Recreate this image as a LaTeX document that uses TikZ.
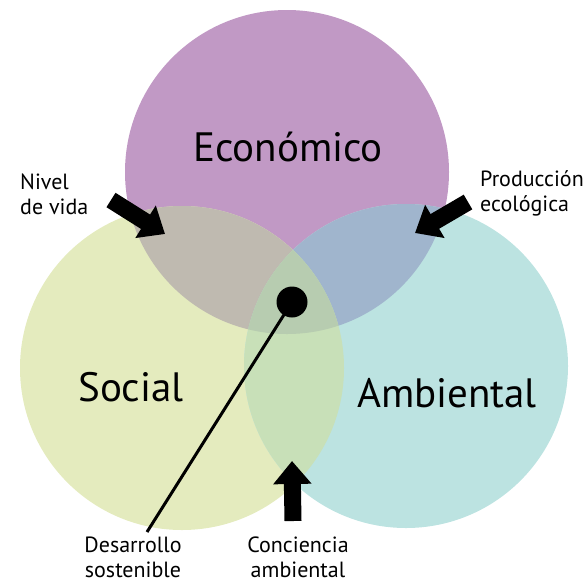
\documentclass[tikz,border=0pt]{standalone}
\usepackage{fontspec}
\setmainfont{PT Sans}
\usetikzlibrary{arrows.meta}

\definecolor{ecocol}{RGB}{193,153,197}
\definecolor{soccol}{RGB}{228,235,190}
\definecolor{ambcol}{RGB}{188,227,225}
\definecolor{ecosoc}{RGB}{191,186,176}
\definecolor{ecoamb}{RGB}{160,181,205}
\definecolor{socamb}{RGB}{200,224,184}
\definecolor{allcol}{RGB}{183,204,176}

\begin{document}
\begin{tikzpicture}
[x=1pt,y=-1pt,
set/.style ={circle, minimum size=324pt, inner sep=0pt, outer sep=0pt},
big/.style ={font=\fontsize{41}{44}\selectfont},
small/.style ={font=\fontsize{22}{25}\selectfont, inner sep=0pt},
fat/.style ={line width=17pt, -{Triangle[width=37pt,length=23pt]}}]
\useasboundingbox (0,0) rectangle (588,582);
% the three sets
\node [set, fill=ecocol] (eco) at (287,172) {};
\node [set, fill=soccol] (soc) at (182,368) {};
\node [set, fill=ambcol] (amb) at (406,366) {};
% overlaps
\begin{scope}
\clip (eco.center) circle (162pt);
\fill [ecosoc] (soc.center) circle (162pt);
\fill [ecoamb] (amb.center) circle (162pt);
\end{scope}
\begin{scope}
\clip (soc.center) circle (162pt);
\clip (amb.center) circle (162pt);
\fill [socamb] (0,0) rectangle (588,582);
\fill [allcol] (eco.center) circle (162pt);
\end{scope}
% names
\node [big] (ecotxt) at (288,147) {Económico};
\node [big] (soctxt) at (131,387) {Social};
\node [big] (ambtxt) at (447,393) {Ambiental};
% labels
\node [small, align=left, anchor=west] (nivel) at (20,194) {Nivel\\de vida};
\node [small, align=left, anchor=west] (prod) at (480,193) {Producción\\ecológica};
\node [small, align=center] (desa) at (133,557) {Desarrollo\\sostenible};
\node [small, align=center] (conc) at (298,557) {Conciencia\\ambiental};
% arrows
\coordinate (nivtail) at (111,200);
\coordinate (nivtip) at (165,234);
\coordinate (prodtail) at (468,202);
\coordinate (prodtip) at (415,233);
\coordinate (conctail) at (293,521);
\coordinate (conctip) at (292,461);
\coordinate (desaend) at (147,532);
\draw [fat] (nivtail) -- (nivtip);
\draw [fat] (prodtail) -- (prodtip);
\draw [fat] (conctail) -- (conctip);
\node [circle, fill=black, minimum size=31pt, inner sep=0pt] (core) at (292,302) {};
\draw [line width=3pt] (core.center) -- (desaend);
\end{tikzpicture}
\end{document}
